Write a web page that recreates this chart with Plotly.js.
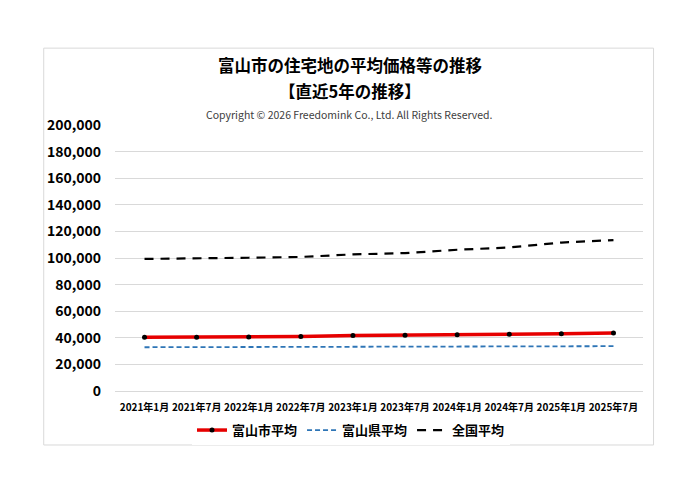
<!DOCTYPE html>
<html>
<head>
<meta charset="utf-8">
<script src="https://cdn.plot.ly/plotly-3.0.1.min.js"></script>
<style>
  body { margin: 0; background: #ffffff; }
  #chart { width: 700px; height: 495px; }
</style>
</head>
<body>
<div id="chart"></div>
<script>
var periods = ['2021年1月', '2021年7月', '2022年1月', '2022年7月', '2023年1月',
               '2023年7月', '2024年1月', '2024年7月', '2025年1月', '2025年7月']

var cityAvg = [40400, 40450, 40650, 40900, 41700, 41950, 42300, 42600, 43100, 43600]
var prefAvg = [32900, 32950, 33000, 33050, 33150, 33200, 33300, 33400, 33550, 33700]
var nationAvg = [99300, 99600, 100200, 100800, 102700, 103700, 106200, 107900, 111600, 113500]

var jp = '"Noto Sans CJK JP", "Noto Sans", sans-serif'

var city = {
  x: periods, y: cityAvg, name: '富山市平均',
  type: 'scatter', mode: 'lines+markers',
  line: {color: '#e60000', width: 3.5},
  marker: {color: '#000000', size: 5}
}

var pref = {
  x: periods, y: prefAvg, name: '富山県平均',
  type: 'scatter', mode: 'lines',
  line: {color: '#2e75b6', width: 1.8, dash: '5px,3px'}
}

var nation = {
  x: periods, y: nationAvg, name: '全国平均',
  type: 'scatter', mode: 'lines',
  line: {color: '#000000', width: 2.2, dash: '9px,7px'}
}

var layout = {
  width: 700,
  height: 495,
  margin: {l: 114.5, r: 56.5, t: 125, b: 104, pad: 0},
  paper_bgcolor: '#ffffff',
  plot_bgcolor: '#ffffff',
  font: {family: jp, color: '#000000'},
  showlegend: true,
  legend: {
    orientation: 'h', x: 0.447, xanchor: 'center', y: -0.147, yanchor: 'middle',
    font: {size: 13, weight: 'bold', family: jp},
    itemwidth: 30, tracegroupgap: 0
  },
  xaxis: {
    type: 'category',
    showgrid: false, zeroline: false, showline: false,
    ticks: '', ticklen: 0, ticklabelstandoff: 9,
    tickfont: {size: 10, weight: 'bold', family: jp},
    tickangle: 0
  },
  yaxis: {
    range: [0, 200000], dtick: 20000, tickformat: ',',
    showgrid: true, gridcolor: '#d9d9d9', gridwidth: 1,
    zeroline: true, zerolinecolor: '#d9d9d9', zerolinewidth: 1,
    showline: false, ticks: '', ticklabelstandoff: 13,
    tickfont: {size: 14, weight: 'bold', family: jp}
  },
  shapes: [{
    type: 'rect', xref: 'paper', yref: 'paper',
    x0: -0.135, x1: 1.02, y0: -0.203, y1: 1.289,
    line: {color: '#d9d9d9', width: 1}, layer: 'below'
  }],
  annotations: [
    {text: '富山市の住宅地の平均価格等の推移', xref: 'paper', yref: 'paper',
     x: 0.445, y: (391 - 65) / 266, yanchor: 'middle', showarrow: false,
     font: {size: 16.5, weight: 'bold', family: jp}},
    {text: '【直近5年の推移】', xref: 'paper', yref: 'paper',
     x: 0.445, y: (391 - 91) / 266, yanchor: 'middle', showarrow: false,
     font: {size: 16.5, weight: 'bold', family: jp}},
    {text: 'Copyright © 2026 Freedomink Co., Ltd. All Rights Reserved.', xref: 'paper', yref: 'paper',
     x: 0.445, y: (391 - 114) / 266, yanchor: 'middle', showarrow: false,
     font: {size: 10.5, color: '#404040', family: jp}}
  ]
}

Plotly.newPlot('chart', [city, pref, nation], layout, {displayModeBar: false, staticPlot: true})
</script>
</body>
</html>
